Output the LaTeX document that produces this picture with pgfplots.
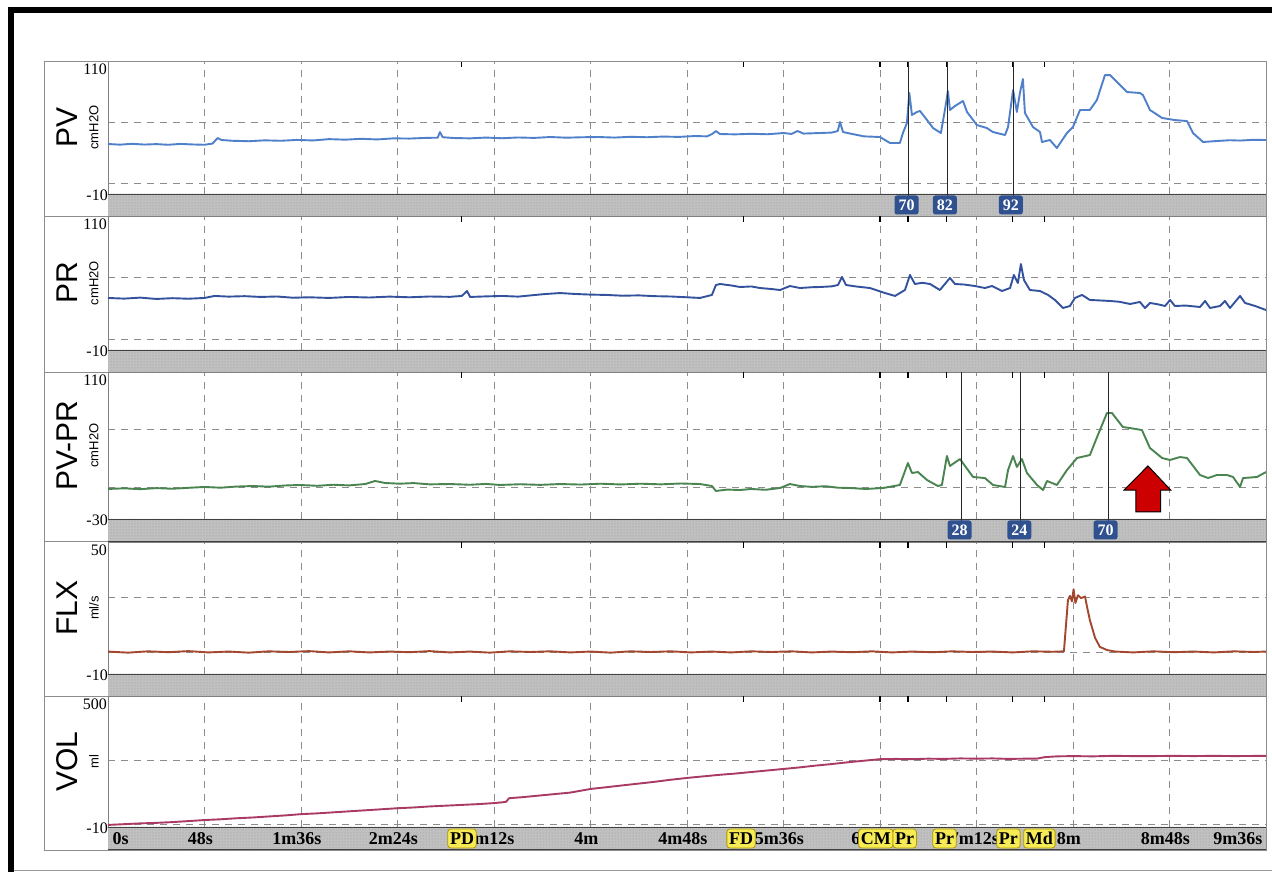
\documentclass[border=0pt]{standalone}
\usepackage{fontspec}
\setmainfont{Liberation Serif}
\newfontfamily\arial{Liberation Sans}
\usepackage{pgfplots}
\pgfplotsset{compat=1.18}
\usetikzlibrary{patterns}
\definecolor{pvblue}{HTML}{4F80C9}
\definecolor{prblue}{HTML}{34519E}
\definecolor{pvprgreen}{HTML}{4A8450}
\definecolor{flxred}{HTML}{A3472F}
\definecolor{volred}{HTML}{A83A64}
\definecolor{mkblue}{HTML}{30518F}
\definecolor{evyellow}{HTML}{F6EB55}
\definecolor{evedge}{HTML}{B09A00}
\definecolor{stripgray}{HTML}{C0C0C0}
\definecolor{framegray}{HTML}{8C8C8C}
\definecolor{arrowred}{HTML}{CC0000}

\pgfplotsset{
  panel/.style={scale only axis, width=1158pt, xmin=0, xmax=576, anchor=north west,
    xtick={0,48,...,576}, xticklabels={}, yticklabels={}, major tick length=0pt,
    xmajorgrids, ymajorgrids,
    grid style={dash pattern=on 7pt off 6pt, black!45, line width=0.6pt},
    axis line style={black!50, line width=0.6pt},
    clip=false,
    every axis plot/.append style={line width=1.9pt, mark=none, line join=round},
  },
}
\newcommand\strip[1]{%
  \fill[stripgray] (axis cs:0,#1) rectangle ([yshift=-22pt]axis cs:576,#1);
  \fill[pattern=dots, pattern color=black!40] (axis cs:0,#1) rectangle ([yshift=-22pt]axis cs:576,#1);
  \draw[black!75, line width=0.8pt] (axis cs:0,#1) -- (axis cs:576,#1);
  \draw[black!75, line width=0.8pt] ([yshift=-22pt]axis cs:0,#1) -- ([yshift=-22pt]axis cs:576,#1);
}
\newcommand\evt[2]{\draw[black, line width=1.3pt] (axis cs:#1,#2) -- ([yshift=-6pt]axis cs:#1,#2);}
\newcommand\evticks[1]{%
  \evt{176}{#1}\evt{316}{#1}\evt{384}{#1}\evt{398}{#1}\evt{417}{#1}\evt{450}{#1}\evt{466}{#1}%
}
\newcommand\mk[4]{%
  \draw[black!85, line width=0.9pt] (axis cs:#1,110) -- ([yshift=-4pt]axis cs:#1,#4);
  \node[fill=mkblue, rounded corners=2.5pt, text=white, font=\bfseries\fontsize{16}{16}\selectfont, inner sep=0pt, minimum width=24pt, minimum height=19pt] at ([yshift=-11pt]axis cs:#2,#4) {#3};
}
\newcommand\ev[2]{%
  \node[fill=evyellow, draw=evedge, line width=0.8pt, rounded corners=3pt, font=\bfseries\fontsize{18}{18}\selectfont, inner xsep=2.2pt, inner ysep=0pt, minimum height=19pt] at ([yshift=-11.5pt]axis cs:#1,-10) {#2};
}
\newcommand\tl[3][-4pt]{\node[font=\bfseries\fontsize{18}{18}\selectfont] at ([xshift=#1,yshift=-11.5pt]axis cs:#2,-10) {#3};}
\newcommand\plabel[2]{%
  \node[rotate=90, font=\arial\fontsize{30}{30}\selectfont] at ([xshift=-41pt]rel axis cs:0,0.5) {#1};
  \node[rotate=90, font=\arial\fontsize{13}{13}\selectfont] at ([xshift=-14pt]rel axis cs:0,0.5) {#2};
}
\newcommand\ylabs[2]{%
  \node[anchor=north east, inner sep=0pt, font=\fontsize{16}{16}\selectfont] at ([xshift=-1pt,yshift=-3pt]rel axis cs:0,1) {#1};
  \node[anchor=east, inner sep=0pt, font=\fontsize{16}{16}\selectfont] at ([xshift=0pt,yshift=-1pt]rel axis cs:0,0) {#2};
}

\begin{document}
\begin{tikzpicture}[x=1pt,y=1pt]
\useasboundingbox (0,0) rectangle (1272,872);
\fill[white] (0,0) rectangle (1272,872);

% ---------------- PV ----------------
\begin{axis}[panel, at={(108pt,811pt)}, height=133pt, ymin=-10, ymax=110, ytick={0,55}]
\addplot[pvblue] coordinates {(0,35.1)(6,34.5)(12,35.3)(18,34.6)(24,35.0)(30,34.4)(36,35.2)(42,34.7)(48,34.4)(52,35.5)(54.5,40.5)(56.5,38.7)(62,38.0)(70,37.6)(78,38.4)(86,38.0)(94,38.8)(102,38.3)(110,39.5)(118,39.0)(126,39.8)(134,39.2)(142,40.2)(150,40.0)(158,40.6)(164,40.8)(165.1,45.9)(166.5,41.2)(172,40.5)(180,40.2)(188,40.9)(196,40.3)(204,41.0)(212,40.6)(220,41.4)(228,40.8)(236,41.2)(244,41.4)(252,40.9)(260,41.6)(268,41.2)(276,41.8)(284,41.5)(292,42.3)(298,42.0)(300.5,44.1)(302.4,46.8)(304.4,44.1)(312,43.8)(320,44.3)(328,43.9)(336,45.0)(340,44.2)(343,46.8)(346,44.5)(354,45.0)(360,45.4)(363,46.8)(364.1,55)(365.6,45.9)(370,44.2)(376,42.0)(384,41.4)(389,36)(393.9,36)(395.4,45)(397.4,54)(398.6,81.1)(399.9,61.3)(402.4,64)(403.9,64.9)(407.4,56.7)(410.4,49.5)(414.3,45)(416.3,65.8)(417.8,82.9)(418.8,65.8)(421.3,69.4)(425.3,73.9)(427.3,64)(432.2,52.2)(437.2,49.5)(440.2,45.9)(446.2,43.2)(447.7,50.4)(450.2,83.8)(452.1,64)(453.6,81.1)(455.1,93.7)(456.1,63.1)(460.1,50.4)(463.6,45.9)(464.6,36.9)(468.5,38.7)(472,31.5)(477,45)(480,50.4)(483.5,65.8)(488.4,65.8)(491.9,74.8)(495.9,97.3)(498.4,97.3)(501.9,91)(506.9,82)(513.3,81.1)(514.8,79.3)(518.3,65.8)(524.3,58.6)(530.7,56.7)(536.7,55.8)(539.7,45)(544.7,36.9)(551.6,37.8)(558,38.5)(563.1,38.2)(570,38.9)(576,38.7)};
\strip{-10}
\evticks{110}
\mk{398.3}{397.2}{70}{-10}
\mk{417.6}{416.3}{82}{-10}
\mk{450.2}{449.1}{92}{-10}
\plabel{PV}{cmH2O}
\ylabs{110}{-10}
\end{axis}

% ---------------- PR ----------------
\begin{axis}[panel, at={(108pt,656pt)}, height=134pt, ymin=-10, ymax=110, ytick={0,55}]
\addplot[prblue] coordinates {(0,36.6)(8,36.0)(16,36.9)(24,35.7)(32,36.4)(40,35.9)(48,36.6)(53,38.4)(60,37.8)(68,38.2)(76,37.5)(84,37.9)(92,36.8)(100,37.2)(110,36.6)(120,37.5)(130,37.0)(140,37.8)(150,37.2)(160,37.9)(170,37.6)(176,38.4)(178.6,42.8)(180.1,37.5)(188,38.0)(196,38.4)(204,37.8)(212,39.2)(217.4,40.1)(224.8,41)(232,40.2)(240,39.6)(248,39.3)(256,38.6)(264,38.9)(272,38.2)(280,37.9)(288,37.2)(294.5,36.6)(300.4,39.3)(302.4,48.2)(304.4,49.1)(310,47.8)(314.4,46.4)(320,46.9)(324.3,45.5)(330,44.6)(334.3,43.7)(339.2,47.3)(344.2,45.5)(350,46.2)(354.1,46.4)(360,47.0)(363.1,48.2)(365.1,55.4)(367.1,48.2)(372,46.9)(379,45.5)(386.5,41)(391.5,38.4)(396.4,43.7)(398.9,57.2)(401.4,49.1)(405,50.2)(408.9,49.1)(413.8,43.7)(416.3,49.1)(418.8,54.5)(421.3,49.1)(426,48.6)(431.2,47.3)(436.2,45.5)(439.7,47.3)(444.7,42.8)(448.7,45.5)(450.6,57.2)(452.6,50)(454.1,67)(455.6,52.7)(458.6,43.7)(463.6,42.8)(467.6,39.3)(471,34.8)(475,27.6)(478.5,29.4)(481,36.6)(484.5,39.3)(488.4,34.8)(493,34.4)(498.4,33.9)(503,33.2)(508.4,31.2)(513.3,33)(515.8,27.6)(518.3,32.1)(522,31.0)(525.8,29.4)(528.3,34.8)(530.7,29.4)(536,29.8)(543.2,28.5)(545.7,33.9)(548.2,27.6)(553.1,29.4)(555.6,33.9)(558.1,27.6)(563.1,38.4)(565.6,32.1)(570.6,29.4)(576,25.8)};
\strip{-10}
\evticks{110}
\plabel{PR}{cmH2O}
\ylabs{110}{-10}
\end{axis}

% ---------------- PV-PR ----------------
\begin{axis}[panel, at={(108pt,500pt)}, height=147pt, ymin=-30, ymax=110, ytick={0,55}]
\addplot[pvprgreen] coordinates {(0,-1.4)(8,-0.8)(16,-1.6)(24,-0.6)(32,-1.2)(40,-0.3)(48,0.5)(56,-0.2)(64,0.9)(72,1.4)(80,0.8)(88,1.9)(95.5,2.4)(104,1.6)(112,2.6)(120,2.0)(128,3.3)(132.8,6.2)(137.8,4.3)(145,3.6)(152,4.2)(160,3.0)(170,3.3)(180,2.6)(188,3.4)(195,2.4)(205,3.1)(215,2.5)(224.8,3.3)(235,2.8)(245,3.6)(255,2.9)(265,3.6)(275,3.0)(285,3.8)(294.5,3.3)(300.4,1.4)(302.4,-3.3)(308,-2.0)(314.4,-2.4)(320,-1.4)(327,-2.2)(334.3,-0.5)(339.2,3.3)(344.2,1.4)(350,0.6)(357,1.2)(363,-0.2)(369.1,-0.5)(377,-1.4)(385.5,-0.5)(393.9,2.4)(397.9,23.3)(399.9,13.8)(402.9,14.7)(407.4,7.1)(412.8,1.4)(414.8,2.4)(417.3,30)(418.8,20.5)(423.8,27.1)(426.3,20.5)(430.3,10)(436.2,9)(440.2,2.4)(446.2,0.5)(447.7,16.6)(450.2,30)(452.1,19.5)(454.6,27.1)(457.1,13.8)(462.1,2.4)(465.1,-2.4)(467.1,6.2)(472,2.4)(477,16.6)(482,28.1)(488.4,30.9)(492.4,50)(496.9,70.9)(499.4,70.9)(504.8,57.6)(508.4,56.6)(514.3,54.7)(518.3,37.6)(524.3,28.1)(528.2,26.2)(533.2,29)(536.7,28.1)(543.2,11.9)(547.2,9)(551.6,11.9)(556.6,11.9)(559.6,10)(563.1,0.5)(564.6,9)(571.5,10)(576,14.7)};
\strip{-30}
\evticks{110}
\mk{424.3}{423.6}{28}{-30}
\mk{454.1}{453.3}{24}{-30}
\mk{497.4}{496.2}{70}{-30}
\draw[black, fill=arrowred, line width=1pt] (axis cs:517.3,20.5) -- (axis cs:528.6,-2.4) -- (axis cs:523.6,-2.4) -- (axis cs:523.6,-23.3) -- (axis cs:511.3,-23.3) -- (axis cs:511.3,-2.4) -- (axis cs:505.4,-2.4) -- cycle;
\plabel{PV-PR}{cmH2O}
\ylabs{110}{-30}
\end{axis}

% ---------------- FLX ----------------
\begin{axis}[panel, at={(108pt,330pt)}, height=132pt, ymin=-10, ymax=50, ytick={0,25}]
\addplot[flxred] coordinates {(0,0.2)(10,-0.3)(20,0.3)(30,-0.1)(40,0.4)(50,-0.2)(60,0.2)(70,-0.3)(80,0.3)(90,0)(100,0.4)(110,-0.2)(120,0.3)(130,-0.2)(140,0.2)(150,-0.1)(160,0.4)(170,-0.2)(180,0.2)(190,-0.3)(200,0.3)(210,0)(220,0.3)(230,-0.2)(240,0.2)(250,-0.3)(260,0.3)(270,0)(280,0.3)(290,-0.2)(300,0.2)(310,-0.2)(320,0.3)(330,0)(340,0.3)(350,-0.2)(360,0.2)(370,-0.1)(380,0.3)(390,-0.2)(400,0.2)(410,-0.1)(420,0.3)(430,0)(440,0.2)(450,-0.2)(460,0.3)(470,0.1)(475.5,0.3)(477.5,23.6)(478.5,25.5)(479.5,23)(480.3,28.5)(481.2,22.3)(482.5,25.8)(484,24.5)(486,25.2)(487,20.5)(488.4,14.5)(491,6.4)(493.4,2.3)(496.9,0.9)(501,0.2)(510,-0.2)(520,0.3)(530,-0.1)(540,0.2)(550,-0.2)(560,0.3)(570,0)(576,0.2)};
\strip{-10}
\evticks{50}
\plabel{FLX}{ml/s}
\ylabs{50}{-10}
\end{axis}

% ---------------- VOL ----------------
\begin{axis}[panel, at={(108pt,176pt)}, height=131pt, ymin=-10, ymax=500, ytick={0,250}]
\addplot[volred] coordinates {(0,-2)(8,1)(16,4)(24,6)(32,9)(40,13)(48,17)(56,20)(64,24)(72,27)(80,31)(88,35)(96,40)(104,43)(112,47)(120,51)(128,55)(136,59)(144,63)(152,66)(160,70)(168,73)(176,76)(184,79)(192,83)(196,86)(198,88)(199.5,102)(206,106)(214,112)(222,118)(230,124)(240,138)(248,145)(256,152)(264,159)(272,166)(280,174)(288,181)(296,187)(304,193)(312,198)(320,204)(328,210)(336,216)(344,222)(352,229)(360,235)(368,242)(376,248)(384,254)(392,255)(400,254)(408,256)(416,255)(424,257)(432,256)(440,257)(448,255)(456,256)(462,256)(466,262)(472,265)(480,266)(490,265)(500,267)(510,266)(520,266)(530,267)(540,266)(550,267)(560,266)(576,267)};
\strip{-10}
\evticks{500}
\plabel{VOL}{ml}
\ylabs{500}{-10}
\node[font=\bfseries\fontsize{18}{18}\selectfont, anchor=west] at ([xshift=1pt,yshift=-11.5pt]axis cs:0,-10) {0s};
\tl{48}{48s}
\tl{96}{1m36s}
\tl{144}{2m24s}
\tl{192}{3m12s}
\tl{240}{4m}
\tl{288}{4m48s}
\tl{336}{5m36s}
\tl{384}{6m24s}
\tl[-2pt]{432}{7m12s}
\tl{480}{8m}
\tl{528}{8m48s}
\node[font=\bfseries\fontsize{18}{18}\selectfont, anchor=east] at ([xshift=0pt,yshift=-11.5pt]axis cs:576,-10) {9m36s};
\ev{176.1}{PD}
\ev{314.9}{FD}
\ev{381.9}{CM}
\ev{396.3}{Pr}
\ev{416.1}{Pr}
\ev{447.9}{Pr}
\ev{463.3}{Md}
\end{axis}

% frame
\draw[framegray, line width=0.8pt] (44,811) rectangle (1266,22);
\foreach \yy in {656,500,331,176} {\draw[framegray, line width=0.8pt] (44,\yy) -- (108,\yy);}
\fill[black] (8,859) rectangle (1272,864.5);
\fill[black] (8,0) rectangle (14,864.5);
\draw[black!40, line width=0.8pt] (14,2) -- (1272,2);
\end{tikzpicture}
\end{document}
